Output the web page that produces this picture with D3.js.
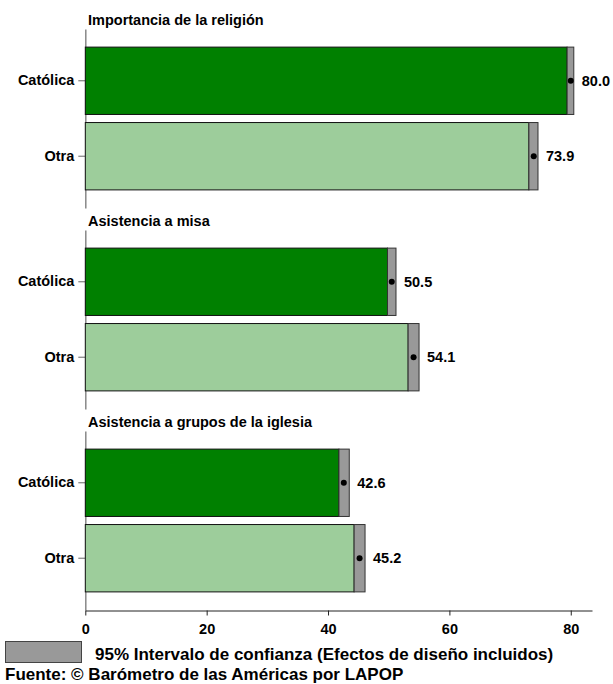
<!DOCTYPE html>
<html>
<head>
<meta charset="utf-8">
<script src="https://cdn.jsdelivr.net/npm/d3@7"></script>
<style>
  body { margin: 0; background: #fff; }
  text { font-family: "Liberation Sans", Arial, sans-serif; font-weight: bold; fill: #000; }
</style>
</head>
<body>
<svg id="chart" width="613" height="684"></svg>
<script>
// ---- data ----
const panelTitles = ["Importancia de la religión", "Asistencia a misa", "Asistencia a grupos de la iglesia"];
const categories = ["Católica", "Otra"];
const means = [[80.0, 73.9], [50.5, 54.1], [42.6, 45.2]];
const lowerCI = [[79.4, 73.1], [49.8, 53.2], [41.8, 44.3]];
const upperCI = [[80.5, 74.6], [51.2, 55.0], [43.5, 46.1]];
const xTicks = [0, 20, 40, 60, 80];
const legendLabel = "95% Intervalo de confianza (Efectos de diseño incluidos)";
const sourceLabel = "Fuente: © Barómetro de las Américas por LAPOP";
const barColors = ["#008000", "#9dcd9b"];

// ---- layout ----
const svg = d3.select("#chart");
const x = d3.scaleLinear().domain([0, 83.5]).range([85.3, 592]);
const panelTops = [29, 230, 431];
const panelH = 179;

panelTitles.forEach((title, i) => {
  const top = panelTops[i];
  const y = d3.scaleBand().domain(categories).range([top, top + panelH])
    .paddingInner(0.107).paddingOuter(0.24);
  const g = svg.append("g");

  g.append("text").attr("x", 88).attr("y", top - 4)
    .style("font-size", "14.5px").text(title);

  const ax = g.append("g").attr("transform", `translate(${x(0)},0)`)
    .call(d3.axisLeft(y).tickSize(7).tickSizeOuter(0).tickPadding(4));
  ax.select(".domain").attr("stroke", "#888").attr("stroke-width", 1.5);
  ax.selectAll(".tick line").attr("stroke", "#666");
  ax.selectAll(".tick text").style("font-size", "14.5px").attr("fill", "#000");

  categories.forEach((c, j) => {
    const y0 = y(c), h = y.bandwidth();
    g.append("rect").attr("x", x(0)).attr("y", y0)
      .attr("width", x(lowerCI[i][j]) - x(0)).attr("height", h)
      .attr("fill", barColors[j]).attr("stroke", "#111").attr("stroke-width", 1);
    g.append("rect").attr("x", x(lowerCI[i][j])).attr("y", y0)
      .attr("width", x(upperCI[i][j]) - x(lowerCI[i][j])).attr("height", h)
      .attr("fill", "#999").attr("stroke", "#333").attr("stroke-width", 1);
    g.append("circle").attr("cx", x(means[i][j])).attr("cy", y0 + h / 2)
      .attr("r", 3).attr("fill", "#000");
    g.append("text").attr("x", x(upperCI[i][j]) + 8).attr("y", y0 + h / 2)
      .attr("dy", "0.35em").style("font-size", "14.5px")
      .text(means[i][j].toFixed(1));
  });
});

// x axis
const xa = svg.append("g").attr("transform", "translate(0,610.5)")
  .call(d3.axisBottom(x).tickValues(xTicks).tickSize(5).tickSizeOuter(0).tickPadding(8));
xa.select(".domain").attr("stroke", "#222");
xa.selectAll(".tick line").attr("stroke", "#222");
xa.selectAll(".tick text").style("font-size", "14.5px").attr("fill", "#000");

// legend
svg.append("rect").attr("x", 5.5).attr("y", 641.5).attr("width", 76).attr("height", 21)
  .attr("fill", "#999").attr("stroke", "#444").attr("stroke-width", 1);
svg.append("text").attr("x", 95).attr("y", 660).style("font-size", "17px").text(legendLabel);
svg.append("text").attr("x", 5).attr("y", 679.5).style("font-size", "17px").text(sourceLabel);
</script>
</body>
</html>
